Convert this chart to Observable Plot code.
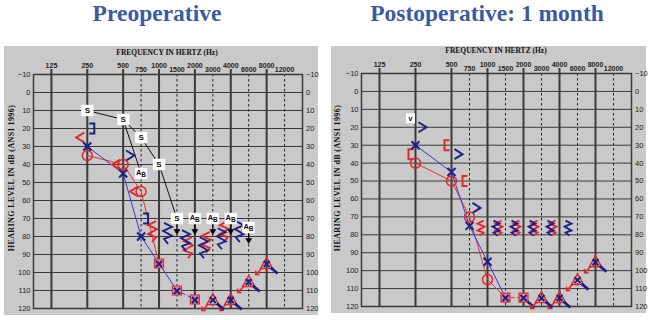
<!DOCTYPE html>
<html><head><meta charset="utf-8">
<script src="https://cdn.jsdelivr.net/npm/d3@7"></script>
<script src="https://cdn.jsdelivr.net/npm/@observablehq/plot@0.6"></script>
<style>
body{margin:0;background:#fff;width:652px;height:320px;position:relative;overflow:hidden;font-family:"Liberation Sans",Arial,sans-serif}
.title{position:absolute;top:-1px;font-family:"Liberation Serif","Times New Roman",serif;font-weight:bold;font-size:23.5px;color:#3a5ba0;line-height:28px;white-space:nowrap;transform:translateX(-50%)}
.panel{position:absolute;background:#c9c9c9}
.panel svg{position:absolute;left:0;top:0}
.ftitle{position:absolute;font-family:"Liberation Serif",serif;font-weight:bold;font-size:7.5px;color:#111;white-space:nowrap;transform:translate(-50%,-50%)}
.ytitle{position:absolute;font-family:"Liberation Serif",serif;font-weight:bold;font-size:8px;letter-spacing:0.4px;color:#111;white-space:nowrap;transform:translate(-50%,-50%) rotate(-90deg)}
</style></head><body>
<div class="title" style="left:157px">Preoperative</div>
<div class="title" style="left:487px">Postoperative: 1 month</div>
<div class="panel" id="pre" style="left:4px;top:46px;width:314px;height:269px"></div>
<div class="panel" id="post" style="left:331px;top:46px;width:315px;height:267px"></div>
<div class="ftitle" style="left:167px;top:52px">FREQUENCY IN HERTZ (Hz)</div>
<div class="ftitle" style="left:496px;top:50px">FREQUENCY IN HERTZ (Hz)</div>
<div class="ytitle" style="left:11px;top:178px">HEARING LEVEL IN dB (ANSI 1996)</div>
<div class="ytitle" style="left:337px;top:178px">HEARING LEVEL IN dB (ANSI 1996)</div>
<script>
// ---- axes ----
const FREQ_POS = {125:0,250:1,500:2,750:2.5,1000:3,1500:3.5,2000:4,3000:4.5,4000:5,6000:5.5,8000:6,12000:6.5};
const majorFreqs = [125,250,500,1000,2000,4000,8000];
const minorFreqs = [750,1500,3000,6000,12000];
const hlTicks = [-10,0,10,20,30,40,50,60,70,80,90,100,110,120];

// ---- Preoperative ----
const preLeftAC = [[250,30],[500,45],[750,80]];
const preLeftACLine = [[250,30],[500,45],[750,80],[1000,95],[1500,110]];
const preLeftACLineNR = [[1500,110],[2000,115]];
const preRightAC = [[250,35],[500,40],[750,55]];
const preRightACLine = [[250,35],[500,40],[750,55],[1000,95]];
const preMaskedAC = [[1000,95],[1500,110],[2000,115]];
const preMaskedACNR = [];
const preNoResponseAC = [[3000,115],[4000,115],[6000,105],[8000,95]];
const preRightBC = [[250,25],[500,40],[750,55]];
const preRightBCMasked = [];
const preLeftBC = [[500,35]];
const preLeftBCMasked = [[250,20],[750,70]];
const preRightBCNR = [[1000,77],[2000,86],[3000,83],[4000,77]];
const preLeftBCNR = [[1000,78],[1500,82],[2000,86],[3000,81],[4000,77]];
const preSoundField = [[250,10],[500,15],[750,25],[1000,40],[1500,70]];
const preSoundFieldNR = [[1500,70]];
const preAided = [[750,45],[2000,70],[3000,70],[4000,70],[6000,75]];
const preAidedNR = [[2000,70],[3000,70],[4000,70],[6000,75]];
const preAidedLine = [[500,15],[750,45]];
const preVibrotactile = [];

// ---- Postoperative: 1 month ----
const postLeftAC = [[250,30],[500,45],[750,75],[1000,95]];
const postLeftACLine = [[250,30],[500,45],[750,75],[1000,95],[1500,115]];
const postLeftACLineNR = [];
const postRightAC = [[250,40],[500,50],[750,70],[1000,105]];
const postRightACLine = [[250,40],[500,50],[750,70],[1000,105],[1500,115]];
const postRightACLineNR = [[1500,115],[2000,115]];
const postMaskedAC = [[1500,115],[2000,115]];
const postMaskedACNR = [[2000,115]];
const postNoResponseAC = [[3000,115],[4000,115],[6000,105],[8000,95]];
const postRightBC = [];
const postRightBCMasked = [[250,35],[500,30],[750,50]];
const postLeftBC = [[250,20],[500,35],[750,65]];
const postLeftBCMasked = [];
const postRightBCNR = [[1000,76],[1500,76],[2000,76],[3000,76],[4000,76]];
const postLeftBCNR = [[1000,76],[1500,76],[2000,76],[3000,76],[4000,76]];
const postSoundField = [];
const postVibrotactile = [[250,15]];

const RED = "#e4262b", BLUE = "#1e1e86", BLUE_LINE = "#3838d0", RED_LINE = "#e23434", GRID = "#3a3a3a";

const P = arr => arr.map(([f, db]) => ({x: FREQ_POS[f], y: db, f, db}));

// custom symbol from polylines [{pts, close}]
function sym(polys){
  return {draw(ctx, size){
    const k = Math.sqrt(size/Math.PI)/5;
    for (const p of polys){
      const pts = p.pts || p;
      ctx.moveTo(pts[0][0]*k, pts[0][1]*k);
      for (let i=1;i<pts.length;i++) ctx.lineTo(pts[i][0]*k, pts[i][1]*k);
      if (p.close) ctx.closePath();
    }
  }};
}
const S = {
  x: sym([[[-4,-4],[4,4]],[[-4,4],[4,-4]]]),
  xs: sym([[[-3,-2.5],[3,3.5]],[[-3,3.5],[3,-2.5]]]),
  lt: sym([[[4,-5],[-4,0],[4,5]]]),
  gt: sym([[[-4,-5],[4,0],[-4,5]]]),
  lbr: sym([[[3,-5],[-2,-5],[-2,5],[3,5]]]),
  rbr: sym([[[-3,-5],[2,-5],[2,5],[-3,5]]]),
  zigR: sym([[[2,-7],[-4,-4],[3,-1],[-4,3],[2,5],[-2,8]]]),
  zigL: sym([[[-2,-7],[4,-4],[-3,-1],[4,3],[-2,5],[2,8]]]),
  zigRBig: sym([[[3,-10],[-5,-6],[4,-2],[-5,3],[3,6],[-1,11]]]),
  zigLBig: sym([[[-3,-10],[5,-6],[-4,-2],[5,3],[-3,6],[1,11]]]),
  tri: sym([{pts:[[0,-6],[-6,5],[6,5]], close:true}]),
  redTail: sym([[[-5,5],[-11,11]],[[-11,7],[-11,11],[-7,11]]]),
  blueTail: sym([[[4,4],[11,10]]]),
  sq: sym([{pts:[[-4.5,-4.5],[4.5,-4.5],[4.5,4.5],[-4.5,4.5]], close:true}]),
  box: sym([{pts:[[-6,-5.5],[6,-5.5],[6,5.5],[-6,5.5]], close:true}]),
  vbox: sym([{pts:[[-4.5,-5],[4.5,-5],[4.5,5],[-4.5,5]], close:true}]),
  arrowLine: sym([[[0,5],[0,12]]]),
  arrowHead: sym([{pts:[[-3,11],[3,11],[0,16]], close:true}])
};

function panel(el, o, d){
  const dot = (data, symbol, opts) => Plot.dot(P(data), {x:"x", y:"y", r:5, symbol, fill:"none", ...opts});
  const line = (data, stroke, extra={}) => Plot.line(P(data), {x:"x", y:"y", stroke, strokeWidth:1, ...extra});
  const fmt = i => Object.keys(FREQ_POS).find(k => FREQ_POS[k] === i);
  const chart = Plot.plot({
    width:o.width, height:o.height,
    marginLeft:o.ml, marginRight:o.mr, marginTop:o.mt, marginBottom:o.mb,
    x:{domain:[-0.5,7], axis:null},
    y:{domain:[-10,120], reverse:true, axis:null},
    style:{background:"transparent", fontFamily:"'Liberation Sans', Arial, sans-serif", overflow:"visible"},
    marks:[
      Plot.ruleY(hlTicks, {stroke:GRID, strokeWidth:1}),
      Plot.ruleX(minorFreqs.map(f=>FREQ_POS[f]), {stroke:"#222", strokeWidth:1, strokeDasharray:"2.5,2.5"}),
      Plot.ruleX(majorFreqs.map(f=>FREQ_POS[f]), {stroke:GRID, strokeWidth:2}),
      Plot.frame({stroke:GRID, strokeWidth:1.5}),
      Plot.axisX(majorFreqs.map(f=>FREQ_POS[f]), {anchor:"top", label:null, tickSize:6, tickPadding:1, tickFormat:fmt, fontSize:7, fontWeight:"bold", fill:"#222", stroke:GRID, strokeWidth:2}),
      Plot.axisX(minorFreqs.map(f=>FREQ_POS[f]), {anchor:"top", label:null, tickSize:0, tickPadding:2.5, tickFormat:fmt, fontSize:7, fontWeight:"bold", fill:"#222"}),
      Plot.axisY(hlTicks, {anchor:"left", label:null, tickSize:0, tickPadding:3, fontSize:7.5, fill:"#222"}),
      Plot.axisY(hlTicks, {anchor:"right", label:null, tickSize:0, tickPadding:3.5, fontSize:7.5, fill:"#222"}),
      // connecting lines
      line(d.soundField, "#111"),
      line(d.aidedLine, "#111"),
      line(d.rightACLine, RED_LINE),
      line(d.leftACLine, BLUE_LINE),
      line(d.leftACLineNR, BLUE_LINE, {strokeDasharray:"3,3"}),
      line(d.rightACLineNR, RED_LINE, {strokeDasharray:"3,3"}),
      // bone conduction
      dot(d.rightBC, S.lt, {stroke:RED, strokeWidth:2, dx:-7}),
      dot(d.rightBCMasked, S.lbr, {stroke:RED, strokeWidth:2, dx:-5}),
      dot(d.leftBC, S.gt, {stroke:BLUE, strokeWidth:2, dx:7}),
      dot(d.leftBCMasked, S.rbr, {stroke:BLUE, strokeWidth:2, dx:5}),
      dot(d.rightBCNR, o.big ? S.zigRBig : S.zigR, {stroke:RED, strokeWidth:1.8, dx:-6}),
      dot(d.leftBCNR, o.big ? S.zigLBig : S.zigL, {stroke:BLUE, strokeWidth:1.8, dx:8}),
      // air conduction
      dot(d.rightAC, "circle", {stroke:RED, strokeWidth:1.5}),
      dot(d.leftAC, S.x, {stroke:BLUE, strokeWidth:2}),
      dot(d.maskedAC, S.sq, {stroke:RED, fill:"#c98aa6", strokeWidth:1.2}),
      dot(d.maskedAC, S.xs, {stroke:BLUE, strokeWidth:2}),
      dot(d.maskedACNR, S.blueTail, {stroke:BLUE, strokeWidth:2.5}),
      dot(d.noResponseAC, S.tri, {stroke:RED, strokeWidth:1.5}),
      dot(d.noResponseAC, S.redTail, {stroke:RED, strokeWidth:1.5}),
      dot(d.noResponseAC, S.xs, {stroke:BLUE, strokeWidth:2}),
      dot(d.noResponseAC, S.blueTail, {stroke:BLUE, strokeWidth:2.8}),
      // sound field / aided labels
      dot(d.soundFieldNR, S.arrowLine, {stroke:"#000", strokeWidth:1.3}),
      dot(d.soundFieldNR, S.arrowHead, {fill:"#000", stroke:"#000", strokeWidth:0.5}),
      dot(d.aidedNR, S.arrowLine, {stroke:"#000", strokeWidth:1.3}),
      dot(d.aidedNR, S.arrowHead, {fill:"#000", stroke:"#000", strokeWidth:0.5}),
      dot(d.soundField, S.box, {fill:"#fff", stroke:"#eee", strokeWidth:0.5}),
      dot(d.aided, S.box, {fill:"#fff", stroke:"#eee", strokeWidth:0.5}),
      Plot.text(P(d.soundField), {x:"x", y:"y", text:()=>"S", fontSize:8, fontWeight:"bold", fill:"#111"}),
      Plot.text(P(d.aided), {x:"x", y:"y", text:()=>"A", fontSize:7.5, fontWeight:"bold", fill:"#111", dx:-2.5, dy:-0.5}),
      Plot.text(P(d.aided), {x:"x", y:"y", text:()=>"B", fontSize:6.5, fontWeight:"bold", fill:"#111", dx:2.5, dy:1.5}),
      dot(d.vibrotactile, S.vbox, {fill:"#fff", stroke:"none", dx:-5}),
      Plot.text(P(d.vibrotactile), {x:"x", y:"y", text:()=>"v", fontSize:7, fontWeight:"bold", fill:"#111", dx:-5})
    ]
  });
  el.appendChild(chart);
}

panel(document.getElementById("pre"),
  {width:314, height:269, ml:29, mr:16, mt:28, mb:7, big:true},
  {leftAC:preLeftAC, leftACLine:preLeftACLine, leftACLineNR:preLeftACLineNR,
   rightAC:preRightAC, rightACLine:preRightACLine, rightACLineNR:[],
   maskedAC:preMaskedAC, maskedACNR:preMaskedACNR, noResponseAC:preNoResponseAC,
   rightBC:preRightBC, rightBCMasked:preRightBCMasked, leftBC:preLeftBC, leftBCMasked:preLeftBCMasked,
   rightBCNR:preRightBCNR, leftBCNR:preLeftBCNR,
   soundField:preSoundField, soundFieldNR:preSoundFieldNR, aided:preAided, aidedNR:preAidedNR,
   aidedLine:preAidedLine, vibrotactile:preVibrotactile});

panel(document.getElementById("post"),
  {width:315, height:267, ml:30, mr:15, mt:27, mb:7, big:false},
  {leftAC:postLeftAC, leftACLine:postLeftACLine, leftACLineNR:postLeftACLineNR,
   rightAC:postRightAC, rightACLine:postRightACLine, rightACLineNR:postRightACLineNR,
   maskedAC:postMaskedAC, maskedACNR:postMaskedACNR, noResponseAC:postNoResponseAC,
   rightBC:postRightBC, rightBCMasked:postRightBCMasked, leftBC:postLeftBC, leftBCMasked:postLeftBCMasked,
   rightBCNR:postRightBCNR, leftBCNR:postLeftBCNR,
   soundField:postSoundField, soundFieldNR:[], aided:[], aidedNR:[],
   aidedLine:[], vibrotactile:postVibrotactile});
</script>
</body></html>
